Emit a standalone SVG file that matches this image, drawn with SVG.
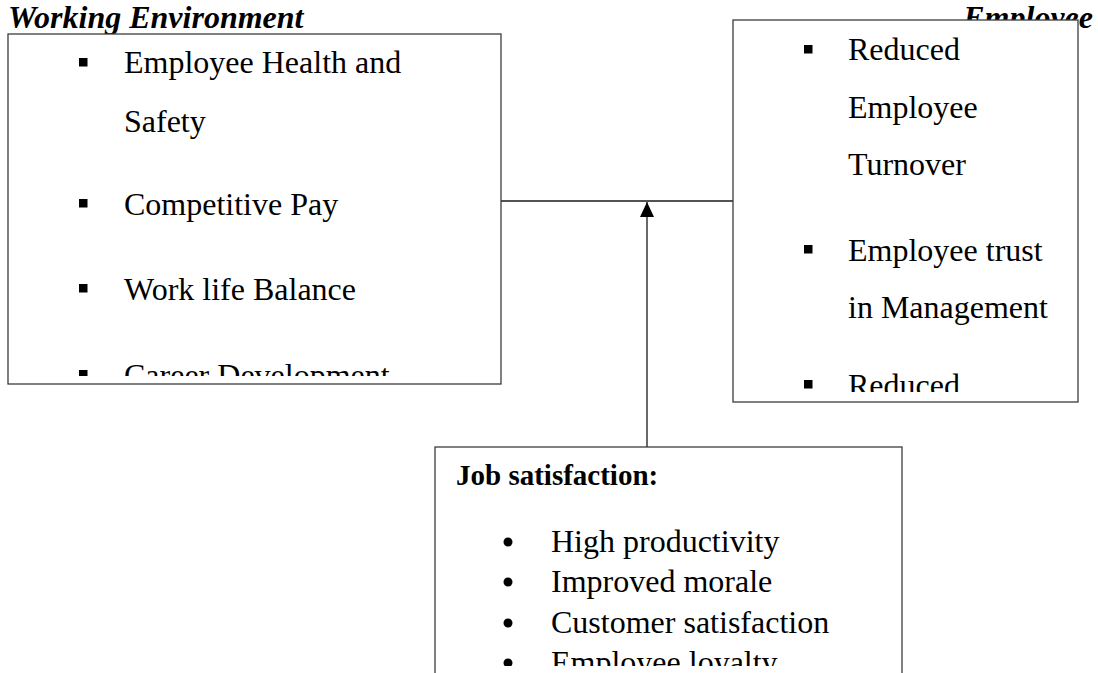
<svg xmlns="http://www.w3.org/2000/svg" width="1098" height="673" viewBox="0 0 1098 673">
  <style>
    .box { fill: #ffffff; stroke: #3c3c3c; stroke-width: 1.3; }
    .line { stroke: #1a1a1a; stroke-width: 1.3; fill: none; }
    .title { font-family: "Liberation Serif", "Times New Roman", serif; font-size: 32px; font-weight: bold; font-style: italic; fill: #000; }
    .body { font-family: "Liberation Serif", "Times New Roman", serif; font-size: 32px; fill: #000; }
    .head { font-family: "Liberation Serif", "Times New Roman", serif; font-size: 29px; font-weight: bold; fill: #000; }
    .sq { fill: #000; }
  </style>
  <defs>
    <!-- arrowhead drawn along +x, rotated to follow the line -->
    <marker id="arrowhead" markerWidth="15" markerHeight="14" refX="15" refY="7" orient="auto" markerUnits="userSpaceOnUse" viewBox="0 0 15 14">
      <path d="M0,0 L15,7 L0,14 Z" fill="#000"/>
    </marker>
    <clipPath id="clipLeft"><rect x="9" y="35" width="491" height="341"/></clipPath>
    <clipPath id="clipRight"><rect x="734" y="21" width="343" height="371"/></clipPath>
    <clipPath id="clipBottom"><rect x="436" y="448" width="465" height="218"/></clipPath>
  </defs>

  <rect x="0" y="0" width="1098" height="673" fill="#ffffff"/>

  <!-- section headings -->
  <text class="title" x="8" y="28">Working Environment</text>
  <text class="title" x="1093" y="28" text-anchor="end">Employee</text>

  <!-- connectors -->
  <g id="connectors">
    <line class="line" x1="501" y1="201" x2="733" y2="201"/>
    <line class="line" x1="647" y1="447" x2="647" y2="202" marker-end="url(#arrowhead)"/>
  </g>

  <!-- working environment factors -->
  <g id="working-environment">
    <rect class="box" x="8" y="34" width="493" height="350"/>
    <g clip-path="url(#clipLeft)">
      <rect class="sq" x="79" y="58" width="8.5" height="8.5"/>
      <text class="body" x="124" y="73">Employee Health and</text>
      <text class="body" x="124" y="132">Safety</text>
      <rect class="sq" x="79" y="199" width="8.5" height="8.5"/>
      <text class="body" x="124" y="215">Competitive Pay</text>
      <rect class="sq" x="79" y="284" width="8.5" height="8.5"/>
      <text class="body" x="124" y="300">Work life Balance</text>
      <rect class="sq" x="79" y="370" width="8.5" height="8.5"/>
      <text class="body" x="124" y="386">Career Development</text>
    </g>
  </g>

  <!-- employee outcomes -->
  <g id="employee-outcomes">
    <rect class="box" x="733" y="20" width="345" height="382"/>
    <g clip-path="url(#clipRight)">
      <rect class="sq" x="804" y="45" width="8.5" height="8.5"/>
      <text class="body" x="848" y="60">Reduced</text>
      <text class="body" x="848" y="118">Employee</text>
      <text class="body" x="848" y="175">Turnover</text>
      <rect class="sq" x="804" y="245" width="8.5" height="8.5"/>
      <text class="body" x="848" y="261">Employee trust</text>
      <text class="body" x="848" y="318">in Management</text>
      <rect class="sq" x="804" y="380" width="8.5" height="8.5"/>
      <text class="body" x="848" y="396">Reduced</text>
    </g>
  </g>

  <!-- job satisfaction -->
  <g id="job-satisfaction">
    <rect class="box" x="435" y="447" width="467" height="240"/>
    <g clip-path="url(#clipBottom)">
      <text class="head" x="456" y="485">Job satisfaction:</text>
      <circle class="sq" cx="508" cy="542" r="4.5"/>
      <text class="body" x="551" y="552">High productivity</text>
      <circle class="sq" cx="508" cy="582" r="4.5"/>
      <text class="body" x="551" y="592">Improved morale</text>
      <circle class="sq" cx="508" cy="623" r="4.5"/>
      <text class="body" x="551" y="633">Customer satisfaction</text>
      <circle class="sq" cx="508" cy="663" r="4.5"/>
      <text class="body" x="551" y="673">Employee loyalty</text>
    </g>
  </g>
</svg>
